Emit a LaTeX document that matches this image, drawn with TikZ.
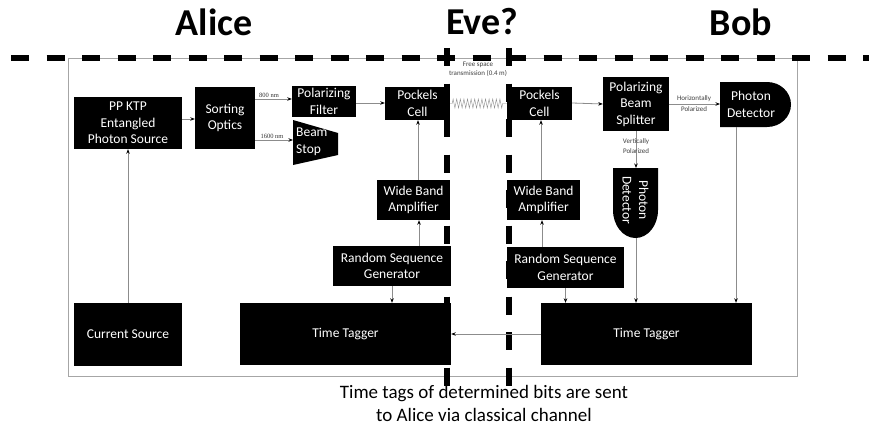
\documentclass[tikz,border=0pt]{standalone}
\usepackage{fontspec}
\setmainfont{Carlito}
\newfontfamily\smallserif{Liberation Serif}
\usetikzlibrary{arrows.meta,decorations.pathmorphing}
\begin{document}
\begin{tikzpicture}[x=1pt,y=-1pt,
  box/.style={fill=black,text=white,align=center,inner sep=0pt,
    font=\fontsize{13.5}{16.5}\selectfont},
  arr/.style={draw=black!45,line width=0.8pt,
    -{Stealth[length=4.5pt,width=3.5pt,color=black]}},
  divider/.style={line width=5.5pt,dash pattern=on 18pt off 17.5pt},
  title/.style={font=\fontsize{38}{40}\selectfont\bfseries},
  tiny/.style={font=\fontsize{7}{9}\selectfont,text=black!75,align=center,inner sep=0pt},
  nmlabel/.style={font=\smallserif\fontsize{6.5}{7}\selectfont,text=black!80,inner sep=0pt},
  detshape/.style={fill=black}
]
\useasboundingbox (0,0) rectangle (869,428);
\fill[white] (0,0) rectangle (869,428);

% frame
\draw[black!35,line width=0.8pt] (68,58) rectangle (797,376);

% titles
\node[title] (alice) at (214,22) {Alice};
\node[title] (eve) at (482,22) {Eve?};
\node[title] (bob) at (741,22) {Bob};

% dividers
\draw[divider] (11,58) -- (869,58);
\draw[divider] (447,48) -- (447,388);
\draw[divider] (509,48) -- (509,388);

% Alice boxes
\node[box,minimum width=108,minimum height=52] (pp) at (128,123) {PP KTP\\Entangled\\Photon Source};
\node[box,minimum width=60,minimum height=62] (sort) at (225,118) {Sorting\\Optics};
\node[box,minimum width=64,minimum height=31] (pf) at (324,101.5) {Polarizing\\Filter};
\fill (293,120) -- (338,133) -- (338,155) -- (293,165) -- cycle;
\node[box,fill=none,anchor=west,align=left] (bs) at (296,142) {Beam\\Stop};
\coordinate (bsL) at (293,140);
\node[box,minimum width=65,minimum height=33] (apc) at (417.5,103.5) {Pockels\\Cell};
\node[box,minimum width=73,minimum height=40] (awb) at (413.5,200) {Wide Band\\Amplifier};
\node[box,minimum width=118,minimum height=40] (arsg) at (392,266) {Random Sequence\\Generator};
\node[box,minimum width=108,minimum height=63] (cs) at (128,334.5) {Current Source};
\node[box,minimum width=211,minimum height=62] (att) at (345.5,334) {Time Tagger};

% Bob boxes
\node[box,minimum width=65,minimum height=33] (bpc) at (539.5,103.5) {Pockels\\Cell};
\node[box,minimum width=73,minimum height=40] (bwb) at (543.5,200) {Wide Band\\Amplifier};
\node[box,minimum width=117,minimum height=41] (brsg) at (565.5,267.5) {Random Sequence\\Generator};
\node[box,minimum width=211,minimum height=62] (btt) at (646.5,334) {Time Tagger};
\node[box,minimum width=66,minimum height=54] (pbs) at (636,104) {Polarizing\\Beam\\Splitter};

% photon detectors
\fill[detshape] (720,82) -- (767,82) arc(-90:90:24 and 22.5) -- (720,127) -- cycle;
\node[box,fill=none] (hpd) at (751,104.5) {Photon\\Detector};
\coordinate (hpdL) at (720,104);
\coordinate (hpdB) at (736,127);
\fill[detshape] (613,168) -- (658,168) -- (658,210) arc(0:180:22.5 and 28) -- cycle;
\node[box,fill=none,rotate=-90] (vpd) at (635.5,200) {Photon\\Detector};
\coordinate (vpdT) at (636,168);
\coordinate (vpdB) at (636,238);

% connectors
\draw[arr] (cs) -- (pp);
\draw[arr] ([yshift=4pt]pp.east) -- ([yshift=-1pt]sort.west);
\draw[arr] ([yshift=19pt]sort.east) -- ([yshift=2.5pt]pf.west);
\node[nmlabel] (l800) at (269,95) {800 nm};
\draw[arr] ([yshift=-22pt]sort.east) -- (bsL);
\node[nmlabel] (l1600) at (272,136) {1600 nm};
\draw[arr] ([yshift=-1.5pt]pf.east) -- ([yshift=0.5pt]apc.west);
\draw[black!45,line width=0.4pt,decorate,
  decoration={zigzag,segment length=3.6pt,amplitude=4.5pt,pre length=2pt,post length=3pt}]
  (apc.east) -- (bpc.west);
\node[tiny] (fs) at (478,69.5) {Free space\\transmission (0.4 m)};
\draw[arr] ([yshift=0.5pt]bpc.east) -- (pbs.west);
\draw[arr] (pbs.east) -- (hpdL);
\node[tiny,font=\fontsize{7}{11}\selectfont] (hp) at (694,104) {Horizontally\\Polarized};
\draw[arr] (pbs.south) -- (vpdT);
\node[tiny,font=\fontsize{7}{10}\selectfont] (vp) at (636,146) {Vertically\\Polarized};
\draw[arr] (hpdB) -- (hpdB |- btt.north);
\draw[arr] (vpdB) -- (vpdB |- btt.north);
\draw[arr] (brsg.south) -- (brsg.south |- btt.north);
\draw[arr] ([xshift=-23.5pt]brsg.north) -- ([xshift=-1.5pt]bwb.south);
\draw[arr] ([xshift=-2.5pt]bwb.north) -- ([xshift=1.5pt]bpc.south);
\draw[arr] ([xshift=4.5pt]awb.north) -- ([xshift=0.5pt]apc.south);
\draw[arr] ([xshift=27pt]arsg.north) -- ([xshift=5.5pt]awb.south);
\draw[arr] (arsg.south) -- (arsg.south |- att.north);
\draw[arr] (btt.west) -- (att.east);

% note
\node[font=\fontsize{19}{23}\selectfont,align=center,inner sep=0pt] (note) at (484,403)
  {Time tags of determined bits are sent\\to Alice via classical channel};
\end{tikzpicture}
\end{document}
